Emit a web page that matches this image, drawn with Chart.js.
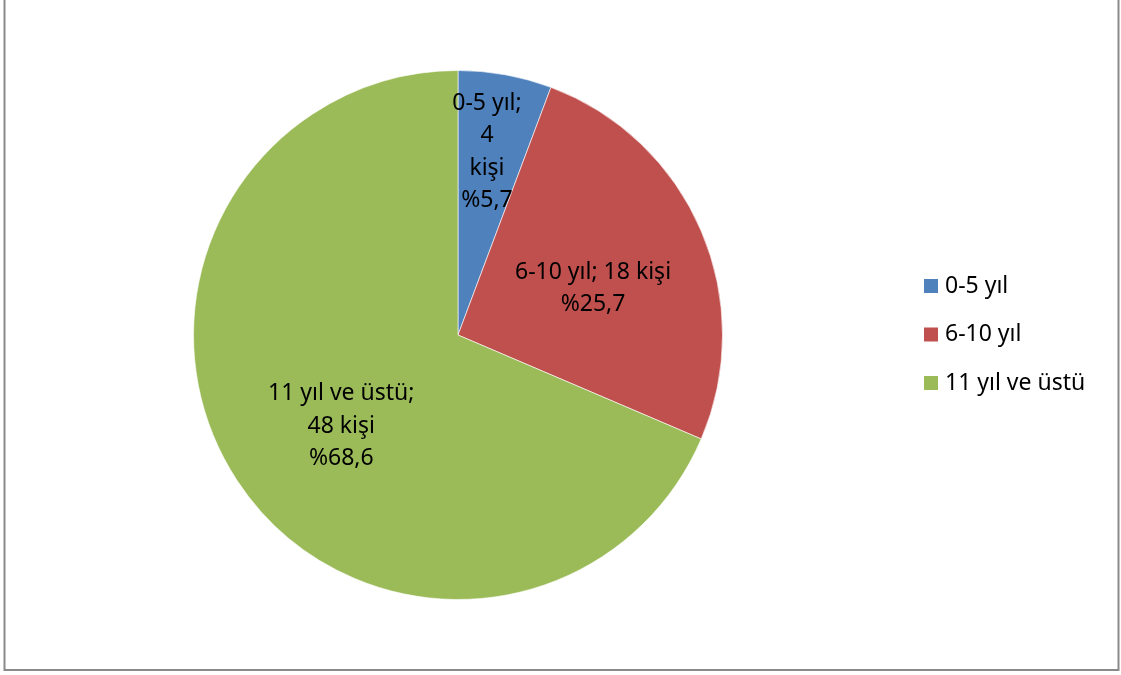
<!DOCTYPE html>
<html>
<head>
<meta charset="utf-8">
<style>
  html, body { margin: 0; padding: 0; background: #fff; }
  #wrap { width: 1121px; height: 675px; position: relative; }
</style>
<script src="https://cdn.jsdelivr.net/npm/chart.js@4/dist/chart.umd.min.js"></script>
</head>
<body>
<div id="wrap"><canvas id="pieChart" width="1121" height="675"></canvas></div>
<script>
const categories = ['0-5 yıl', '6-10 yıl', '11 yıl ve üstü'];
const counts = [4, 18, 48];
const sliceColors = ['#4F81BD', '#C0504D', '#9BBB59'];

const FONT = '"Noto Sans", sans-serif';
const total = counts.reduce((a, b) => a + b, 0);

// label parts: "name;", count, "kişi", "%pct" -- grouped differently per slice
const labelGroups = [[1, 1, 1, 1], [3, 1], [1, 2, 1]];
// where each label sits: fraction of radius and angle (deg, 0 = right, clockwise)
const labelSpots = [[0.70, -81], [0.54, -19], [0.56, 142]];

function labelLines(i) {
    const pct = (counts[i] / total * 100).toFixed(1).replace('.', ',');
    const parts = [categories[i] + ';', String(counts[i]), 'kişi', '%' + pct];
    const lines = [];
    let k = 0;
    labelGroups[i].forEach(n => {
        lines.push(parts.slice(k, k + n).join(' '));
        k += n;
    });
    return lines;
}

const frameAndLabels = {
    id: 'frameAndLabels',
    afterDraw(chart) {
        const ctx = chart.ctx;
        ctx.save();
        // outer frame
        ctx.strokeStyle = '#8a8a8a';
        ctx.lineWidth = 2;
        ctx.strokeRect(4.5, -5, 1114, 675);

        // data labels
        const meta = chart.getDatasetMeta(0);
        ctx.fillStyle = '#000';
        ctx.font = '23px ' + FONT;
        ctx.textAlign = 'center';
        ctx.textBaseline = 'middle';
        meta.data.forEach((arc, i) => {
            const spot = labelSpots[i];
            const a = spot[1] * Math.PI / 180;
            const r = arc.outerRadius * spot[0];
            const cx = arc.x + Math.cos(a) * r;
            const cy = arc.y + Math.sin(a) * r;
            const lines = labelLines(i);
            const lh = 32.5;
            const y0 = cy - (lines.length - 1) * lh / 2;
            lines.forEach((t, j) => ctx.fillText(t, cx, y0 + j * lh));
        });

        // legend
        ctx.textAlign = 'left';
        categories.forEach((c, i) => {
            const y = 286 + i * 48.5;
            ctx.fillStyle = sliceColors[i];
            ctx.fillRect(924, y - 7, 14, 14);
            ctx.fillStyle = '#000';
            ctx.fillText(c, 945, y);
        });
        ctx.restore();
    }
};

new Chart(document.getElementById('pieChart'), {
    type: 'pie',
    data: {
        labels: categories,
        datasets: [{
            data: counts,
            backgroundColor: sliceColors,
            borderColor: 'rgba(255,255,255,0.6)',
            borderWidth: 1
        }]
    },
    options: {
        responsive: false,
        animation: false,
        layout: { padding: { left: 193, right: 398, top: 70, bottom: 75 } },
        plugins: {
            legend: { display: false },
            tooltip: { enabled: false }
        }
    },
    plugins: [frameAndLabels]
});
</script>
</body>
</html>
